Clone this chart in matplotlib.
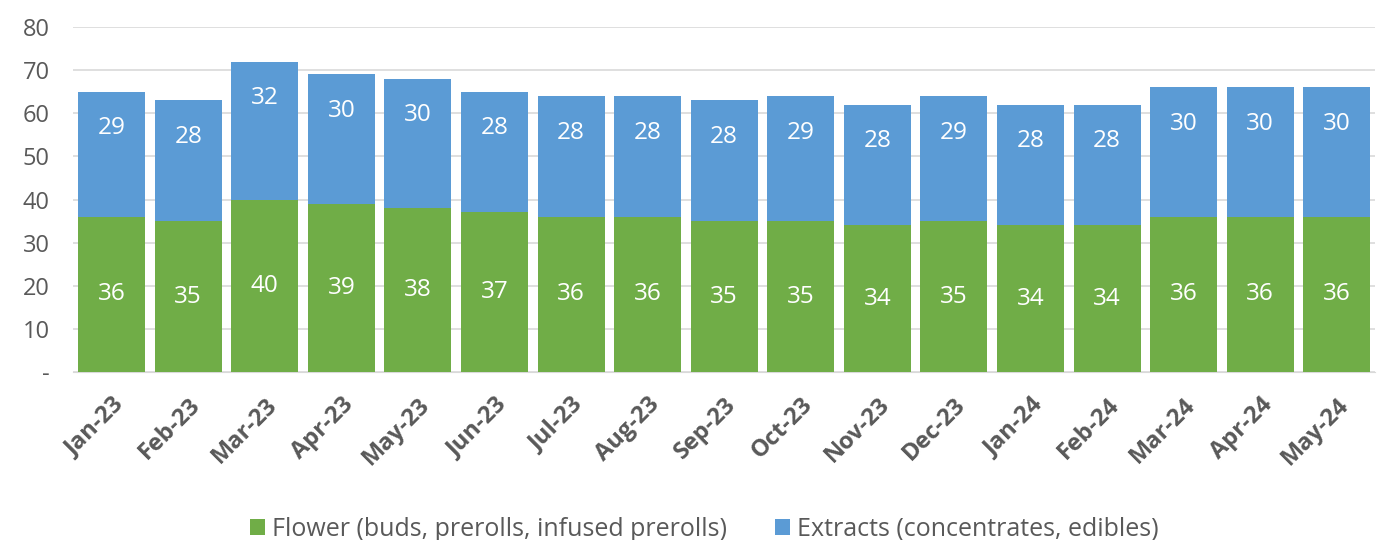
import numpy as np
import matplotlib.pyplot as plt

months = ["Jan-23", "Feb-23", "Mar-23", "Apr-23", "May-23", "Jun-23", "Jul-23", "Aug-23",
          "Sep-23", "Oct-23", "Nov-23", "Dec-23", "Jan-24", "Feb-24", "Mar-24", "Apr-24", "May-24"]
flower = [36, 35, 40, 39, 38, 37, 36, 36, 35, 35, 34, 35, 34, 34, 36, 36, 36]
extracts = [29, 28, 32, 30, 30, 28, 28, 28, 28, 29, 28, 29, 28, 28, 30, 30, 30]

green = "#70AD47"
blue = "#5B9BD5"
text_gray = "#595959"

plt.rcParams['font.family'] = ['Open Sans', 'DejaVu Sans']

fig = plt.figure(figsize=(13.84, 5.4), dpi=100)
ax = fig.add_axes([0.053, 0.311, 0.9405, 0.639])

x = np.arange(len(months))
flower = np.array(flower)
extracts = np.array(extracts)
ax.bar(x, flower, width=0.875, color=green, zorder=3,
       label="Flower (buds, prerolls, infused prerolls)")
ax.bar(x, extracts, width=0.875, bottom=flower, color=blue, zorder=3,
       label="Extracts (concentrates, edibles)")

# value labels: flower centred, extracts near the top of the stack
for i in range(len(months)):
    ax.text(x[i], flower[i] / 2, str(flower[i]), ha='center', va='center',
            color='white', fontsize=17.5, zorder=4)
    ax.text(x[i], flower[i] + extracts[i] - 8.5, str(extracts[i]), ha='center', va='center',
            color='white', fontsize=17.5, zorder=4)

ax.set_xlim(-0.5, len(months) - 0.5)
ax.set_ylim(0, 80)
ax.set_yticks(range(0, 81, 10))
ax.set_yticklabels(["-"] + [str(v) for v in range(10, 81, 10)])
ax.yaxis.grid(True, color="#d9d9d9", linewidth=1.2, zorder=0)
for s in ['top', 'right', 'left']:
    ax.spines[s].set_visible(False)
ax.spines['bottom'].set_color("#d9d9d9")
ax.tick_params(axis='y', length=0, labelsize=17, labelcolor=text_gray, pad=17)
ax.tick_params(axis='x', length=0, pad=15)
ax.set_xticks(x)
ax.set_xticklabels(months, rotation=45, ha='right', rotation_mode='anchor',
                   fontsize=17, fontweight='bold', color=text_gray)

fig.legend(loc='center', bbox_to_anchor=(0.509, 0.02), ncol=2, frameon=False,
           fontsize=18, labelcolor=text_gray, handlelength=0.6, handleheight=0.6,
           handletextpad=0.3, columnspacing=1.9, borderpad=0, borderaxespad=0)

fig.savefig("out.png", dpi=100)
